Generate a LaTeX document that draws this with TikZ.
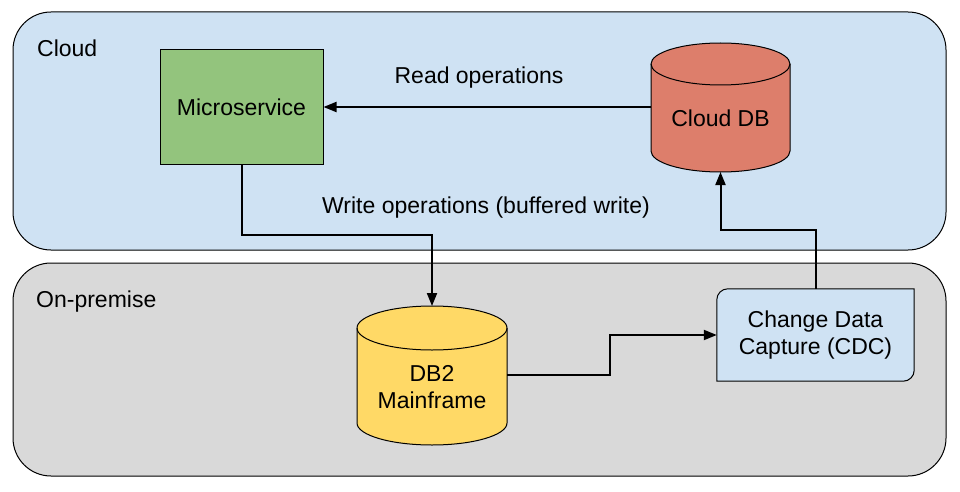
\documentclass[tikz,border=0pt]{standalone}
\usepackage{fontspec}
\setmainfont{Liberation Sans}
\usepackage{tikz}
\usetikzlibrary{arrows.meta,backgrounds,calc}
\definecolor{cloudbg}{HTML}{CFE2F3}
\definecolor{prembg}{HTML}{D9D9D9}
\definecolor{msgreen}{HTML}{93C47D}
\definecolor{dbred}{HTML}{DD7E6B}
\definecolor{dbyellow}{HTML}{FFD966}
\tikzset{
  region/.style={draw=black,line width=1pt,rounded corners=38pt},
  regionlabel/.style={anchor=base west,inner sep=0pt},
  dbbody/.style={align=center,inner sep=0pt},
  flow/.style={line width=2pt,-{Triangle[length=13pt,width=10pt]}},
}
\newcommand{\dbdrum}[6]{%
  \filldraw[draw=black,line width=1pt,fill=#6] ([shift={(-#2,#4)}]#1.center) -- ([shift={(-#2,-#5)}]#1.center)
    arc[start angle=180,end angle=360,x radius=#2,y radius=#3] -- ([shift={(#2,#4)}]#1.center)
    arc[start angle=0,end angle=180,x radius=#2,y radius=#3] -- cycle;
  \draw[line width=1pt] ([shift={(-#2,#4)}]#1.center) arc[start angle=180,end angle=360,x radius=#2,y radius=#3];
  \coordinate (#1-top) at ([shift={(0,{#4+#3})}]#1.center);
  \coordinate (#1-bottom) at ([shift={(0,{-#5-#3})}]#1.center);
}

\begin{document}
\begin{tikzpicture}[x=1pt,y=1pt,font=\fontsize{23}{27}\selectfont]
\useasboundingbox (0,0) rectangle (960,491);
\node[regionlabel] (cloudlbl) at (37,434) {Cloud};
\node[regionlabel] (premlbl) at (36,184) {On-premise};
\node[draw,line width=1pt,fill=msgreen,minimum width=163pt,minimum height=114pt] (micro) at (241.5,384) {Microservice};
\node[dbbody,minimum width=139pt] (clouddb) at (720.5,373) {Cloud DB};
\node[dbbody,minimum width=150pt] (db2) at (432,103.5) {DB2\\Mainframe};
\node[align=center,minimum width=197pt,minimum height=92pt,inner sep=0pt] (cdc) at (815.5,156) {Change Data\\Capture (CDC)};
\node (readlbl) at (479,413) {Read operations};
\node (writelbl) at (486,283) {Write operations (buffered write)};
\begin{scope}[on background layer]
\draw[region,fill=cloudbg] (13,241) rectangle (946,479);
\draw[region,fill=prembg] (13,15) rectangle (946,228);
\dbdrum{clouddb}{69.5}{21}{54}{33}{dbred}
\dbdrum{db2}{75}{22}{59.5}{35.5}{dbyellow}
\filldraw[draw=black,line width=1pt,fill=cloudbg] (cdc.south west) -- ([yshift=-11pt]cdc.north west) arc[start angle=180,end angle=90,radius=11pt] -- (cdc.north east) -- ([yshift=11pt]cdc.south east) arc[start angle=0,end angle=-90,radius=11pt] -- cycle;
\end{scope}
\draw[flow] (clouddb.west |- micro.east) -- (micro.east);
\draw[flow] (micro.south) -- ++(0,-70) -| (db2-top);
\draw[flow] ([yshift=12.5pt]db2.east) -- ++(103,0) |- (cdc.west);
\draw[flow] (cdc.north) -- ++(0,59) -| (clouddb-bottom);
\end{tikzpicture}
\end{document}
